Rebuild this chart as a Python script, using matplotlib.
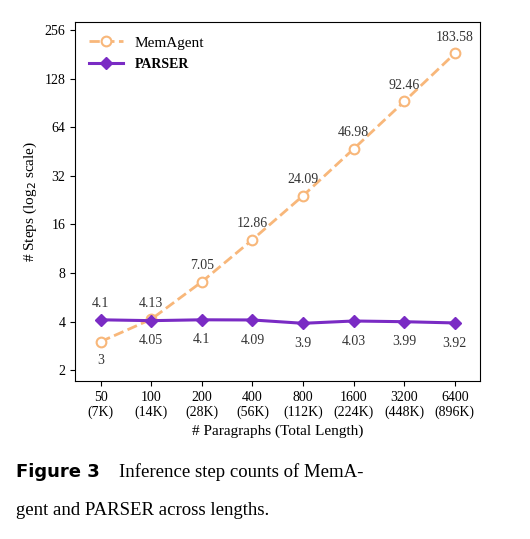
import matplotlib
matplotlib.use("Agg")
import matplotlib.pyplot as plt

x_labels = ["50\n(7K)", "100\n(14K)", "200\n(28K)", "400\n(56K)", "800\n(112K)", "1600\n(224K)", "3200\n(448K)", "6400\n(896K)"]
memagent = [3, 4.13, 7.05, 12.86, 24.09, 46.98, 92.46, 183.58]
parser = [4.1, 4.05, 4.1, 4.09, 3.9, 4.03, 3.99, 3.92]
yticks = [2, 4, 8, 16, 32, 64, 128, 256]

plt.rcParams['font.family'] = ['Liberation Serif', 'DejaVu Serif']
fig = plt.figure(figsize=(5.30, 5.39), dpi=100)
ax = fig.add_axes([0.142, 0.293, 0.764, 0.666])
xs = list(range(len(x_labels)))
orange = "#f8b77a"
purple = "#7a2bc4"
ax.plot(xs, memagent, ls="--", color=orange, lw=2, marker="o", ms=7,
        mfc="white", mec=orange, mew=1.5, label="MemAgent")
ax.plot(xs, parser, color=purple, lw=2.2, marker="D", ms=6.5, label="ParSer")
ax.set_yscale("log", base=2)
ax.set_ylim(1.71, 287)
ax.set_xlim(-0.5, 7.5)
ax.set_yticks(yticks)
ax.set_yticklabels([str(v) for v in yticks])
ax.set_xticks(xs)
ax.set_xticklabels(x_labels, fontsize=10)
ax.tick_params(labelsize=10)
ax.set_ylabel("# Steps (log$_2$ scale)", fontsize=11)
ax.set_xlabel("# Paragraphs (Total Length)", fontsize=11)

for i, v in enumerate(memagent):
    if i == 0:
        ax.annotate("3", (i, v), xytext=(0, -16), textcoords="offset points", ha="center", fontsize=10, color="#333333")
    else:
        ax.annotate(f"{v:g}", (i, v), xytext=(0, 9), textcoords="offset points", ha="center", fontsize=10, color="#333333")
for i, v in enumerate(parser):
    lab = f"{v:g}"
    if i == 0:
        ax.annotate(lab, (i, v), xytext=(0, 9), textcoords="offset points", ha="center", fontsize=10, color="#333333")
    else:
        ax.annotate(lab, (i, v), xytext=(0, -17), textcoords="offset points", ha="center", fontsize=10, color="#333333")

leg = ax.legend(loc="upper left", frameon=False, fontsize=11, handlelength=2.2)
for t in leg.get_texts():
    if t.get_text() == "ParSer":
        t.set_text("PARSER")
        t.set_fontweight("bold")
        t.set_fontsize(10)

fig.text(0.03, 0.115, "Figure 3", fontsize=13, fontweight="bold", family=["DejaVu Sans"])
fig.text(0.225, 0.115, "Inference step counts of MemA-", fontsize=13.5)
fig.text(0.03, 0.045, "gent and PARSER across lengths.", fontsize=13.5)
fig.savefig("out.png", dpi=100)
